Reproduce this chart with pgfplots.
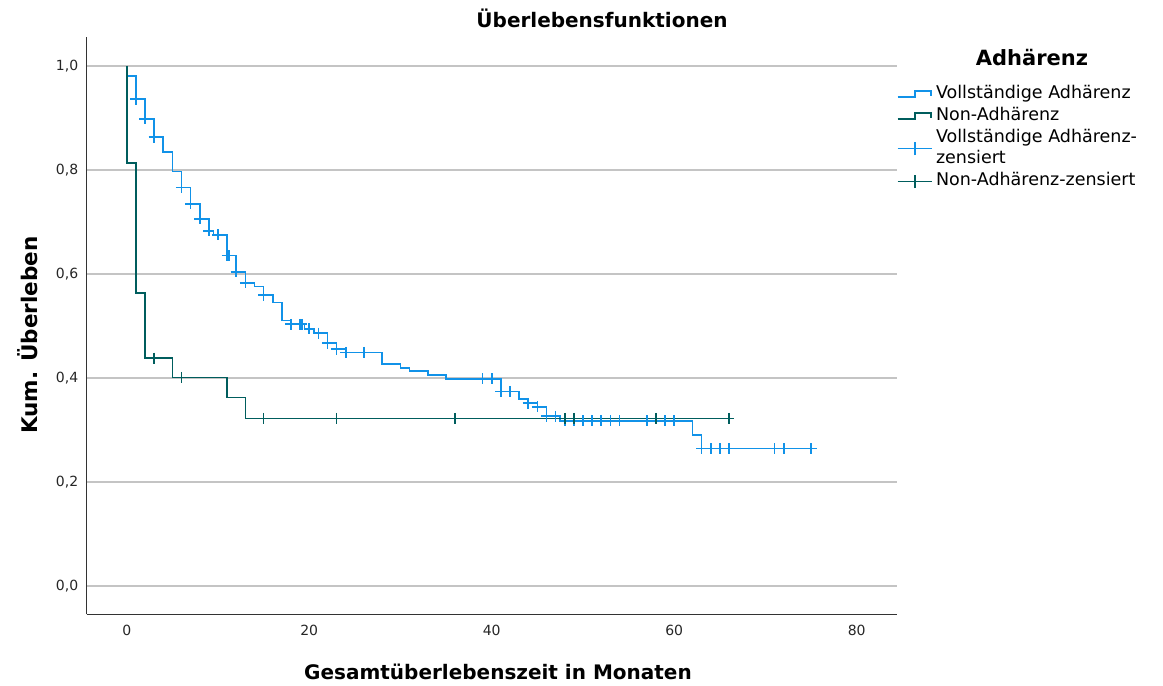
\documentclass[border=0pt]{standalone}
\usepackage{fontspec}
\setmainfont{DejaVu Sans}
\usepackage{pgfplots}
\pgfplotsset{compat=1.18}
\definecolor{lightc}{HTML}{1192E8}
\definecolor{darkc}{HTML}{005D5D}
\definecolor{gridc}{HTML}{C4C4C4}
\begin{document}
\begin{tikzpicture}
\path[use as bounding box] (0,0) rectangle (1163pt,686pt);
\begin{axis}[
  at={(86.7pt,71.7pt)}, anchor=south west,
  scale only axis, width=810pt, height=577pt,
  xmin=-4.384, xmax=84.38, ymin=-0.055, ymax=1.0552,
  axis x line*=bottom, axis y line*=left,
  axis line style={-, line width=1.5pt, color=black!80},
  xtick={0,20,40,60,80}, ytick={0,0.2,0.4,0.6,0.8,1.0},
  major tick length=0pt,
  ymajorgrids, grid style={gridc, line width=1.6pt},
  /pgf/number format/assume math mode=true,
  tick label style={font=\fontsize{14pt}{16pt}\selectfont, text=black!85},
  yticklabel style={/pgf/number format/.cd, fixed, fixed zerofill, precision=1, use comma, /tikz/.cd, xshift=-5pt},
  xticklabel style={yshift=-7pt},
  legend cell align=left,
  legend style={at={(1,0.921)}, anchor=north west, draw=none, fill=none, inner sep=0pt,
    font=\fontsize{17.5pt}{21pt}\selectfont, row sep=0pt,
    nodes={inner ysep=2.2pt, inner xsep=3.5pt, text height=13pt, text depth=4.5pt},
    /tikz/every odd column/.append style={column sep=0pt}},
]
\addplot[const plot, lightc, line width=1.6pt,
  legend image code/.code={\draw[lightc, line width=1.6pt] (0pt,-3pt) -- (17pt,-3pt) -- (17pt,3pt) -- (33pt,3pt) -- (33pt,-2pt);}]
coordinates {(0,1.0)(0,0.981)(1,0.936)(2,0.898)(3,0.863)(4,0.835)(5,0.797)(6,0.766)(7,0.735)(8,0.706)(9,0.683)(9.5,0.675)(11,0.635)(12,0.604)(13,0.583)(14,0.576)(15,0.559)(16,0.545)(17,0.510)(18,0.503)(19.5,0.494)(20.5,0.486)(22,0.467)(23,0.455)(24,0.449)(28,0.427)(30,0.419)(31,0.413)(33,0.405)(35,0.398)(41,0.374)(43,0.359)(44,0.351)(45,0.344)(46,0.326)(47.5,0.317)(62,0.290)(63,0.264)(75,0.264)};
\addlegendentry{Vollständige Adhärenz}
\addplot[const plot, darkc, line width=1.6pt,
  legend image code/.code={\draw[darkc, line width=1.6pt] (0pt,-3pt) -- (17pt,-3pt) -- (17pt,3pt) -- (33pt,3pt) -- (33pt,-2pt);}]
coordinates {(0,1.0)(0,0.813)(1,0.563)(2,0.438)(5,0.401)(11,0.362)(13,0.322)(66,0.322)};
\addlegendentry{Non-Adhärenz}
\addplot[only marks, mark=+, mark size=5.5pt, lightc, mark options={line width=1.6pt},
  legend image code/.code={\draw[overlay, lightc, line width=1.6pt] (0pt,-10.8pt) -- (34pt,-10.8pt); \draw[overlay, lightc, line width=1.6pt] (17pt,-17.3pt) -- (17pt,-4.3pt);}]
coordinates {(1,0.936)(2,0.898)(3,0.863)(6,0.766)(7,0.735)(8,0.706)(9,0.683)(10,0.675)(11,0.635)(11.2,0.635)(12,0.604)(13,0.583)(15,0.559)(18,0.503)(19,0.503)(19.2,0.503)(20,0.494)(21,0.486)(22,0.467)(23,0.455)(24,0.449)(26,0.449)(39,0.398)(40,0.398)(41,0.374)(42,0.374)(44,0.351)(45,0.344)(46,0.326)(47,0.326)(48,0.317)(49,0.317)(50,0.317)(51,0.317)(52,0.317)(53,0.317)(54,0.317)(57,0.317)(59,0.317)(60,0.317)(63,0.264)(64,0.264)(65,0.264)(66,0.264)(71,0.264)(72,0.264)(75,0.264)};
\addlegendentry{Vollständige Adhärenz-}
\addlegendimage{empty legend}
\addlegendentry{zensiert}
\addplot[only marks, mark=+, mark size=5.5pt, darkc, mark options={line width=1.6pt},
  legend image code/.code={\draw[darkc, line width=1.6pt] (0pt,0pt) -- (34pt,0pt); \draw[darkc, line width=1.6pt] (17pt,-6.5pt) -- (17pt,6.5pt);}]
coordinates {(3,0.438)(6,0.401)(15,0.322)(23,0.322)(36,0.322)(48,0.322)(49,0.322)(58,0.322)(66,0.322)};
\addlegendentry{Non-Adhärenz-zensiert}
\end{axis}
\node[font=\fontsize{20pt}{24pt}\selectfont\bfseries, anchor=base] at (602pt,658pt) {Überlebensfunktionen};
\node[font=\fontsize{20pt}{24pt}\selectfont\bfseries, anchor=base] at (498pt,6.7pt) {Gesamtüberlebenszeit in Monaten};
\node[font=\fontsize{21.5pt}{24pt}\selectfont\bfseries, rotate=90, anchor=center] at (28pt,351pt) {Kum. Überleben};
\node[font=\fontsize{21pt}{24pt}\selectfont\bfseries, anchor=base] at (1032pt,620pt) {Adhärenz};
\end{tikzpicture}
\end{document}
